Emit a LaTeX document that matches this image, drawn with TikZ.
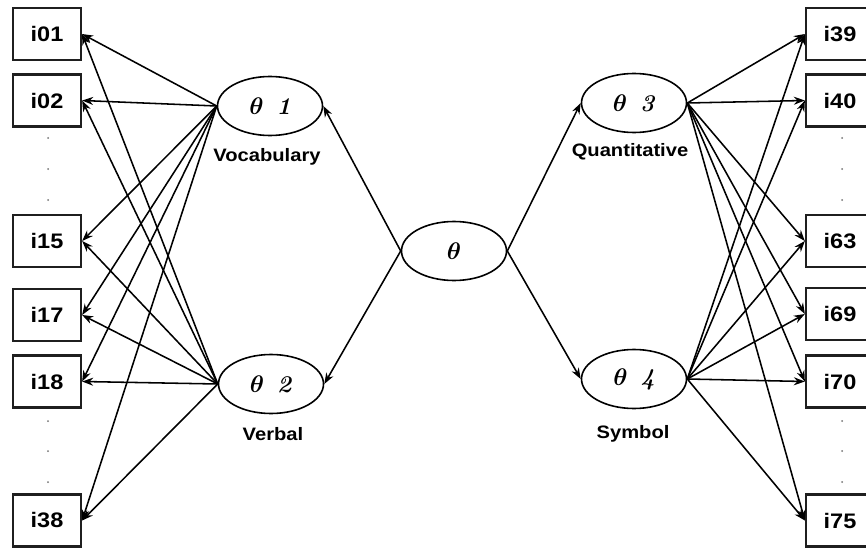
\documentclass[tikz,border=0pt]{standalone}
\usepackage{fontspec}
\usepackage{graphicx}
\usetikzlibrary{shapes.geometric,arrows.meta}
\newfontfamily\labelfont{Liberation Sans}[BoldFont={Liberation Sans Bold}]
% latent trait symbols, set at 10pt and enlarged
\newcommand\bigtheta{\scalebox{2.4}{\boldmath$\theta$}}
\newcommand\traitlabel[1]{\bigtheta\hspace{13pt}\scalebox{2.4}{\textit{\bfseries #1}}\hspace{9pt}}
\newcommand\widetext[1]{\scalebox{1.12}[1]{#1}}
\tikzset{
  item/.style={draw=black!88, line width=2.3pt, minimum width=68pt,
    minimum height=52pt, inner sep=0pt,
    font=\labelfont\bfseries\fontsize{21}{21}\selectfont},
  latent/.style={ellipse, draw, line width=1.6pt, minimum width=105pt,
    minimum height=59pt, inner sep=0pt, font=\fontsize{10}{10}\selectfont},
  link/.style={-{Stealth[length=11pt,width=8pt]}, line width=1.55pt},
  caption/.style={font=\labelfont\bfseries\fontsize{18}{18}\selectfont, inner sep=0pt},
  gap/.style={fill=black!55, circle, inner sep=0pt, minimum size=2pt}
}
\begin{document}
\begin{tikzpicture}[x=1pt,y=-1pt]
\useasboundingbox (0,0) rectangle (866,548);
\clip (0,0) rectangle (866,548);
\fill[white] (0,0) rectangle (866,548);

% observed items, left block
\node[item] (i01) at (47,34)  {\widetext{i01}};
\node[item] (i02) at (47,100.5) {\widetext{i02}};
\node[item] (i15) at (47,241)   {\widetext{i15}};
\node[item] (i17) at (47,315)   {\widetext{i17}};
\node[item] (i18) at (47,381.5) {\widetext{i18}};
\node[item] (i38) at (47,520.5) {\widetext{i38}};

% observed items, right block
\node[item] (i39) at (840,34)  {\widetext{i39}};
\node[item] (i40) at (840,100.5) {\widetext{i40}};
\node[item] (i63) at (840,241)   {\widetext{i63}};
\node[item] (i69) at (840,314)   {\widetext{i69}};
\node[item] (i70) at (840,381.5) {\widetext{i70}};
\node[item] (i75) at (840,520.5) {\widetext{i75}};

% elided items
\foreach \yy in {138,169,200,421,451,482} {
  \node[gap] (dl\yy) at (48,\yy) {};
  \node[gap] (dr\yy) at (842,\yy) {};
}

% latent traits
\node[latent] (g)  at (454,251) {\bigtheta};
\node[latent] (t1) at (270,106) {\traitlabel{1}};
\node[latent] (t2) at (271,384) {\traitlabel{2}};
\node[latent] (t3) at (634,103) {\traitlabel{3}};
\node[latent] (t4) at (634,379) {\traitlabel{4}};

\node[caption] (c1) at (267,157) {\widetext{Vocabulary}};
\node[caption] (c2) at (273,434) {\widetext{Verbal}};
\node[caption] (c3) at (630,152) {\widetext{Quantitative}};
\node[caption] (c4) at (633,434) {\widetext{Symbol}};

% general factor to the specific traits
\draw[link] (g.west) -- (t1.east);
\draw[link] (g.west) -- (t2.east);
\draw[link] (g.east) -- (t3.west);
\draw[link] (g.east) -- (t4.west);

% loadings
\foreach \t in {t1,t2} {
  \foreach \i in {i01,i02,i15,i17,i18,i38}
    \draw[link] (\t.west) -- (\i.east);
}
\foreach \t in {t3,t4} {
  \foreach \i in {i39,i40,i63,i69,i70,i75}
    \draw[link] (\t.east) -- (\i.west);
}
\end{tikzpicture}
\end{document}
